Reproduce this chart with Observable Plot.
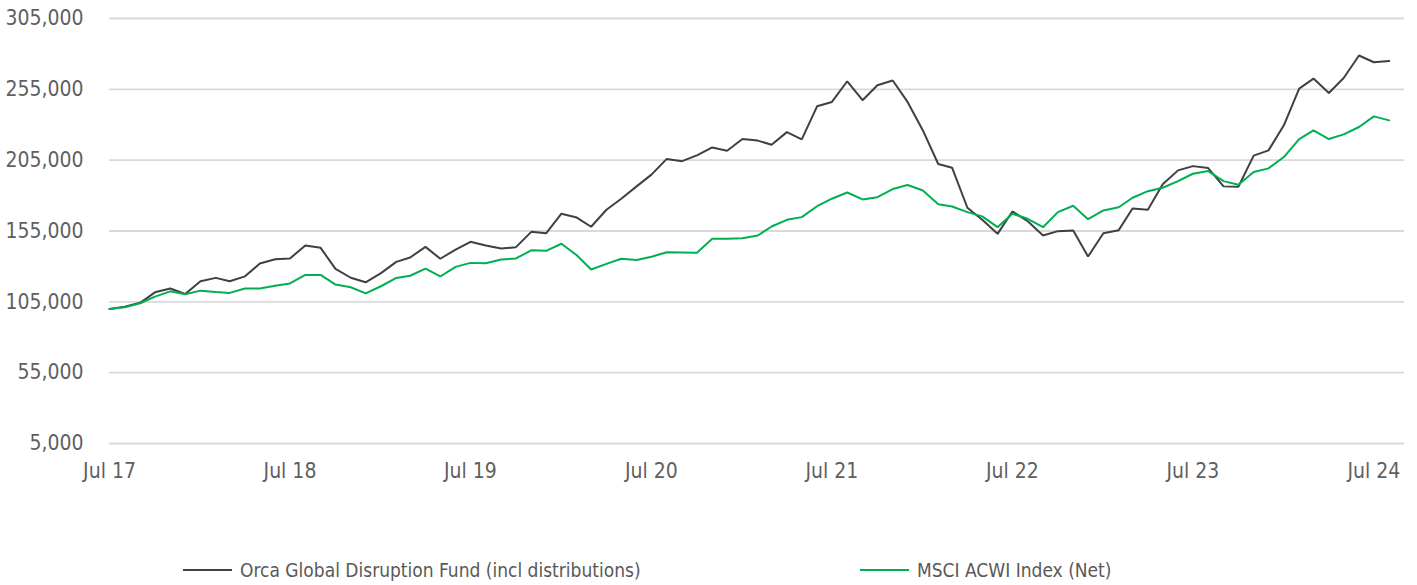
<!DOCTYPE html>
<html>
<head>
<meta charset="utf-8">
<script src="https://cdn.jsdelivr.net/npm/d3@7"></script>
<script src="https://cdn.jsdelivr.net/npm/@observablehq/plot@0.6"></script>
<style>
  html, body { margin: 0; padding: 0; background: #fff; }
  #wrap { position: relative; width: 1417px; height: 585px; font-family: "Liberation Sans Narrow", "DejaVu Sans Condensed", "Roboto Condensed", "Liberation Sans", sans-serif; }
  #chart svg { display: block; }
  .leg { position: absolute; top: 559px; display: flex; align-items: center; font-size: 19px; color: #595959; white-space: nowrap; }
  .sw { width: 49px; height: 2px; margin-right: 8px; }
</style>
</head>
<body>
<div id="wrap">
  <div id="chart"></div>
  <div class="leg" style="left:183px"><div class="sw" style="background:#404040"></div><span>Orca Global Disruption Fund (incl distributions)</span></div>
  <div class="leg" style="left:860px"><div class="sw" style="background:#00b050"></div><span>MSCI ACWI Index (Net)</span></div>
</div>
<script>
// Monthly series, first month Jul 2017, last Aug 2024
const startMonth = [2017, 6]; // year, zero-based month
const fund = [
  100000, 101600, 104300, 111700, 114400, 110600, 119500, 121900, 119500, 123000,
  132000, 135100, 135600, 144800, 143100, 128300, 122000, 118800, 125300, 133200,
  136300, 143800, 135400, 141900, 147400, 144800, 142600, 143600, 154400, 153400,
  167200, 164500, 158000, 170000, 177800, 186500, 194800, 205900, 204300, 208400,
  214000, 211700, 219900, 218800, 215900, 224800, 219700, 243000, 246100, 260700,
  247300, 257900, 261200, 246100, 226000, 202300, 199700, 171400, 162900, 153000,
  168800, 161900, 151800, 154900, 155400, 137000, 153400, 155600, 170900, 170000,
  188000, 197800, 200800, 199400, 186500, 186200, 208200, 211900, 229600, 255500,
  262600, 252400, 263000, 278900, 274100, 275000
];
const msci = [
  100000, 101100, 104000, 108700, 112400, 110300, 112900, 112000, 111300, 114400,
  114400, 116300, 118000, 124000, 124000, 117200, 115300, 111000, 116000, 121900,
  123400, 128400, 122900, 129700, 132500, 132200, 134900, 135600, 141400, 141000,
  146000, 137900, 127800, 131800, 135400, 134600, 136800, 140000, 139800, 139600,
  149500, 149500, 149900, 151800, 158200, 162900, 164800, 172500, 177800, 182200,
  177300, 178900, 184600, 187500, 183600, 173900, 172300, 168300, 165300, 157700,
  167200, 163600, 157700, 168300, 172800, 163300, 169500, 171800, 178500, 183100,
  185500, 190200, 195400, 197300, 190200, 187700, 196600, 199200, 207200, 219900,
  226000, 219900, 223200, 228400, 235900, 233100
];
const seriesNames = ["Orca Global Disruption Fund (incl distributions)", "MSCI ACWI Index (Net)"];
const seriesColors = ["#404040", "#00b050"];
const yTicks = [5000, 55000, 105000, 155000, 205000, 255000, 305000];
const xTickYears = [2017, 2018, 2019, 2020, 2021, 2022, 2023, 2024];
const xTickLabels = ["Jul 17", "Jul 18", "Jul 19", "Jul 20", "Jul 21", "Jul 22", "Jul 23", "Jul 24"];

const monthDate = i => new Date(Date.UTC(startMonth[0], startMonth[1] + i, 1));
const rows = [];
fund.forEach((v, i) => rows.push({date: monthDate(i), value: v, series: seriesNames[0]}));
msci.forEach((v, i) => rows.push({date: monthDate(i), value: v, series: seriesNames[1]}));
const xTicks = xTickYears.map(y => new Date(Date.UTC(y, 6, 1)));
const labelOf = new Map(xTicks.map((d, i) => [+d, xTickLabels[i]]));

const chart = Plot.plot({
  width: 1417,
  height: 500,
  marginLeft: 109,
  marginRight: 13,
  marginTop: 18,
  marginBottom: 57,
  style: {fontFamily: '"Liberation Sans Narrow", "DejaVu Sans Condensed", "Roboto Condensed", "Liberation Sans", sans-serif', fontSize: "21px", color: "#5f5f5f", background: "white"},
  x: {type: "utc", domain: [monthDate(0), monthDate(fund.length)], ticks: xTicks, tickFormat: d => labelOf.get(+d), tickSize: 0, tickPadding: 20, label: null},
  y: {domain: [5000, 305000], ticks: yTicks, tickFormat: d3.format(","), tickSize: 0, tickPadding: 26, label: null},
  color: {domain: seriesNames, range: seriesColors},
  marks: [
    Plot.ruleY(yTicks, {stroke: "#d9d9d9", strokeWidth: 1.8}),
    Plot.line(rows, {x: "date", y: "value", z: "series", stroke: "series", strokeWidth: 2, strokeLinejoin: "miter"})
  ]
});
document.getElementById("chart").appendChild(chart);
</script>
</body>
</html>
